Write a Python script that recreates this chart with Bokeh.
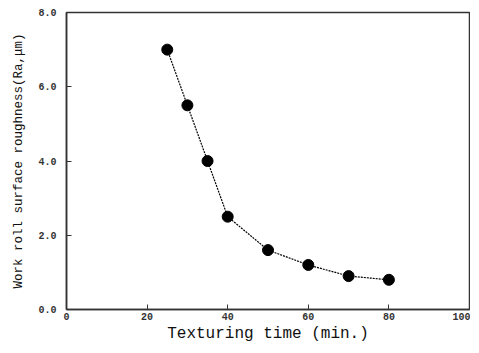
from bokeh.plotting import figure
from bokeh.embed import file_html
from bokeh.resources import INLINE
from bokeh.models import FixedTicker, Range1d

time_min = [25, 30, 35, 40, 50, 60, 70, 80]
roughness = [7.0, 5.5, 4.0, 2.5, 1.6, 1.2, 0.9, 0.8]
x_ticks = [0, 20, 40, 60, 80, 100]
y_ticks = [0, 2, 4, 6, 8]
y_tick_labels = {0: "0.0", 2: "2.0", 4: "4.0", 6: "6.0", 8: "8.0"}

FONT = "Liberation Mono"

p = figure(width=470, height=345, output_backend="svg", toolbar_location=None,
           x_range=Range1d(0, 100), y_range=Range1d(0, 8),
           min_border_left=66, min_border_right=1, min_border_top=12, min_border_bottom=35)

p.line(time_min, roughness, line_color="black", line_width=1.2, line_dash="2 1")
p.scatter(time_min, roughness, size=11, fill_color="black", line_color="black")

p.xgrid.visible = False
p.ygrid.visible = False
p.outline_line_color = "#333333"
p.outline_line_width = 1.5

for ax in (p.xaxis[0], p.yaxis[0]):
    ax.axis_line_color = "#333333"
    ax.axis_line_width = 1.5
    ax.major_tick_in = 5
    ax.major_tick_out = 0
    ax.minor_tick_in = 0
    ax.minor_tick_out = 0
    ax.major_tick_line_color = "#333333"
    ax.major_label_text_font = FONT
    ax.major_label_text_font_size = "10px"
    ax.major_label_text_font_style = "bold"
    ax.major_label_text_color = "#333333"
    ax.axis_label_text_font = FONT
    ax.axis_label_text_font_style = "normal"
    ax.axis_label_text_color = "#111111"

p.xaxis[0].ticker = FixedTicker(ticks=x_ticks)
p.yaxis[0].ticker = FixedTicker(ticks=y_ticks)
p.yaxis[0].major_label_overrides = y_tick_labels
p.xaxis[0].axis_label = "Texturing time (min.)"
p.yaxis[0].axis_label = "Work roll surface roughness(Ra,\u03bcm)"
p.xaxis[0].axis_label_text_font_size = "16px"
p.yaxis[0].axis_label_text_font_size = "12.5px"
p.xaxis[0].major_label_standoff = 3
p.yaxis[0].major_label_standoff = 10
p.xaxis[0].axis_label_standoff = 2
p.yaxis[0].axis_label_standoff = 9

open("out.html", "w").write(file_html(p, INLINE))
